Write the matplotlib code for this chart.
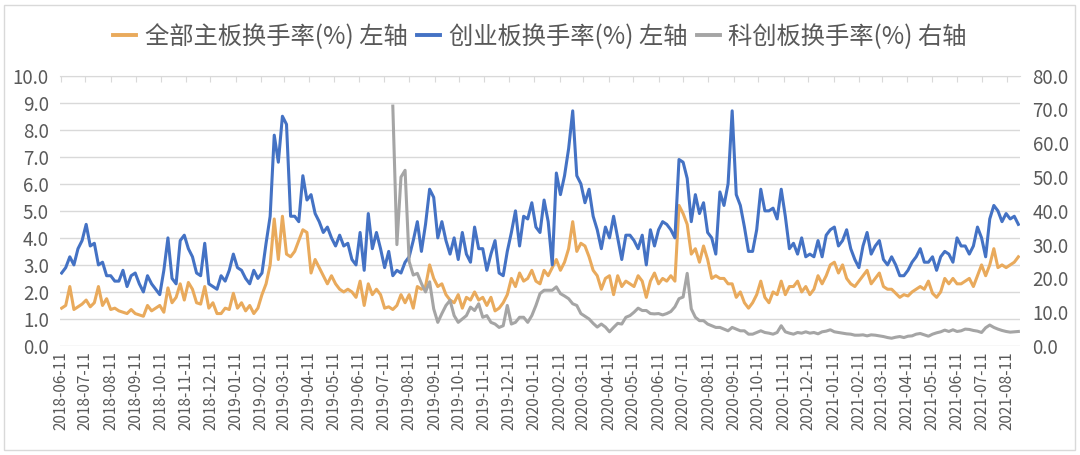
import numpy as np
import pandas as pd
import matplotlib
matplotlib.use("Agg")
import matplotlib.pyplot as plt
import matplotlib.dates as mdates
from matplotlib.patches import Rectangle
from matplotlib.lines import Line2D
from matplotlib.ticker import FormatStrFormatter, MultipleLocator

plt.rcParams['font.family'] = ['Noto Sans CJK SC', 'DejaVu Sans']

# sample dates (every 5 calendar days)
dates = pd.date_range('2018-06-12', periods=235, freq='5D')

# 全部主板换手率(%) - left axis
main_board = [
    1.4, 1.5, 2.2, 1.35, 1.45, 1.55, 1.7, 1.45, 1.6, 2.2,
    1.5, 1.75, 1.35, 1.4, 1.3, 1.25, 1.2, 1.35, 1.2, 1.15,
    1.1, 1.5, 1.3, 1.4, 1.5, 1.25, 2.15, 1.6, 1.8, 2.3,
    1.7, 2.35, 2.1, 1.6, 1.55, 2.2, 1.4, 1.6, 1.2,
    1.2, 1.4, 1.35, 1.95, 1.4, 1.6, 1.3, 1.5, 1.2, 1.4,
    1.9, 2.3, 3.0, 4.7, 3.2, 4.8, 3.4, 3.3, 3.5, 3.9,
    4.3, 4.2, 2.7, 3.2, 2.9, 2.6, 2.3, 2.6, 2.3, 2.1,
    2.0, 2.1, 2.0, 1.8, 2.4, 1.5, 2.3, 1.9, 2.1,
    1.9, 1.4, 1.45, 1.35, 1.5, 1.9, 1.6, 1.9, 1.4, 2.2,
    2.1, 2.2, 3.0, 2.5, 2.2, 2.3, 1.9, 1.7, 1.6, 1.9,
    1.4, 1.8, 1.7, 2.0, 1.7, 1.8, 1.5, 1.8, 1.3, 1.4,
    1.6, 1.9, 2.5, 2.2, 2.7, 2.4, 2.5, 2.8, 2.4,
    2.3, 2.8, 2.6, 2.9, 3.2, 2.8, 3.1, 3.6, 4.6, 3.5,
    3.8, 3.7, 3.3, 2.8, 2.6, 2.1, 2.5, 2.6, 1.9, 2.6,
    2.2, 2.4, 2.3, 2.2, 2.6, 2.4, 1.8, 2.4, 2.7, 2.3,
    2.5, 2.4, 2.6, 2.4, 5.2, 4.9, 4.5, 3.4, 3.6, 3.1,
    3.7, 3.2, 2.5, 2.6, 2.5, 2.5, 2.3, 2.3, 1.8, 2.0,
    1.6, 1.4, 1.6, 1.9, 2.4, 1.8, 1.6, 2.0, 1.9, 2.4,
    1.9, 2.2, 2.2, 2.4, 2.0, 2.2, 1.9, 2.1, 2.6, 2.3,
    2.6, 3.0, 3.1, 2.7, 3.0, 2.5, 2.3, 2.2, 2.4,
    2.6, 2.8, 2.3, 2.5, 2.7, 2.2, 2.1, 2.1, 1.95, 1.8,
    1.9, 1.85, 2.0, 2.1, 2.2, 2.1, 2.4, 1.95, 1.8, 2.0,
    2.5, 2.3, 2.5, 2.3, 2.3, 2.4, 2.5, 2.2, 2.6, 3.0,
    2.6, 3.0, 3.6, 2.9, 3.0, 2.9, 3.0, 3.1, 3.3,
]

# 创业板换手率(%) - left axis
chinext = [
    2.7, 2.9, 3.3, 3.0, 3.6, 3.9, 4.5, 3.7, 3.8, 3.0,
    3.1, 2.6, 2.6, 2.4, 2.4, 2.8, 2.2, 2.6, 2.7, 2.3,
    2.0, 2.6, 2.3, 2.1, 1.9, 2.8, 4.0, 2.5, 2.3, 3.9,
    4.1, 3.6, 3.3, 2.7, 2.6, 3.8, 2.3, 2.2, 2.1,
    2.6, 2.4, 2.8, 3.4, 2.9, 2.8, 2.5, 2.3, 2.8, 2.5,
    2.7, 3.8, 4.8, 7.8, 6.8, 8.5, 8.2, 4.8, 4.8, 4.6,
    6.3, 5.4, 5.6, 4.9, 4.6, 4.2, 4.4, 4.0, 3.7, 4.1,
    3.7, 3.8, 3.2, 3.0, 4.2, 2.8, 4.9, 3.6, 4.2,
    3.6, 2.9, 3.5, 2.6, 2.8, 2.7, 3.1, 3.3, 3.9, 4.6,
    3.5, 4.5, 5.8, 5.5, 4.0, 4.6, 3.9, 3.4, 4.0, 3.2,
    4.2, 3.4, 3.1, 4.4, 3.6, 3.6, 2.8, 3.4, 3.9, 2.7,
    2.6, 3.5, 4.2, 5.0, 3.7, 4.8, 4.7, 5.3, 4.4,
    4.2, 5.4, 4.6, 3.0, 6.4, 5.6, 6.3, 7.3, 8.7, 6.3,
    6.0, 5.3, 5.8, 4.8, 4.3, 3.6, 4.4, 4.0, 4.8, 4.0,
    3.2, 4.1, 4.1, 3.9, 3.6, 4.1, 3.0, 4.3, 3.7, 4.3,
    4.6, 4.5, 4.3, 4.0, 6.9, 6.8, 6.2, 4.6, 5.6, 4.9,
    5.3, 4.2, 4.0, 3.4, 5.7, 5.2, 6.0, 8.7, 5.6, 5.2,
    4.4, 3.5, 3.5, 4.3, 5.8, 5.0, 5.0, 5.1, 4.7, 5.8,
    4.8, 3.6, 3.8, 3.4, 4.0, 3.3, 3.4, 3.3, 3.9, 3.3,
    4.1, 4.3, 4.4, 3.7, 3.9, 4.3, 3.6, 3.2, 2.9,
    3.7, 4.2, 3.4, 3.7, 3.9, 3.2, 3.0, 3.3, 3.0, 2.6,
    2.6, 2.8, 3.1, 3.3, 3.6, 3.1, 3.1, 3.3, 2.8, 3.3,
    3.5, 3.4, 3.1, 4.0, 3.7, 3.7, 3.4, 3.7, 4.4, 4.0,
    3.3, 4.7, 5.2, 5.0, 4.6, 4.9, 4.7, 4.8, 4.5,
]

# 科创板换手率(%) - right axis, starts 2019-07-22
star_start = 81
star = [
    71, 30, 50, 52, 25, 21, 21.5, 18.5, 16, 19,
    11, 7, 9.6, 12, 13.5, 9, 7, 8, 9, 11.5,
    10.5, 12.5, 8.5, 9, 7, 6.5, 5.5, 6, 12, 6.5,
    7, 8.5, 8.5, 7, 9, 12,
    15.5, 16.5, 16.5, 16.5, 17.5, 15.5, 14.8, 14, 12.5, 12,
    9.6, 8.8, 8, 6.7, 5.6, 6.5, 5.6, 4.2, 5.5, 6.7,
    6.5, 8.5, 9, 10, 11.2, 10.5, 10.5, 9.6, 9.5, 9.6,
    9.2, 9.6, 10.2, 11.6, 14, 14.5, 21.5, 11, 8.5, 7.5,
    7.5, 6.5, 6, 5.5, 5.5, 5, 4.5, 5.5, 5, 4.5,
    4.5, 3.5, 3.5, 4, 4.5, 4, 3.8, 3.5, 4, 6,
    4.2, 3.8, 3.5, 4, 3.8, 4.2, 3.8, 4, 3.6, 4.2,
    4.4, 4.8, 4.2, 4.0, 3.8, 3.6, 3.5, 3.2, 3.2,
    3.3, 3.0, 3.3, 3.2, 3.0, 2.8, 2.5, 2.3, 2.6, 2.8,
    2.5, 2.9, 3.0, 3.5, 3.7, 3.3, 2.9, 3.5, 3.9, 4.2,
    4.7, 4.3, 4.8, 4.3, 4.5, 5.0, 4.9, 4.6, 4.4, 4.0,
    5.4, 6.2, 5.5, 5.0, 4.6, 4.3, 4.1, 4.2, 4.3,
]

labels = ['全部主板换手率(%) 左轴', '创业板换手率(%) 左轴', '科创板换手率(%) 右轴']
colors = ['#E9AA5C', '#4472C4', '#A5A5A5']
txt = '#595959'
grid_c = '#D9D9D9'

fig = plt.figure(figsize=(10.8, 4.55), dpi=100)
ax = fig.add_axes([60/1080, 1 - 346/455, 960/1080, (346 - 75.7)/455])
ax2 = ax.twinx()

ax.plot(dates, main_board, color=colors[0], lw=2.2, solid_joinstyle='round')
ax.plot(dates, chinext, color=colors[1], lw=2.2, solid_joinstyle='round')
ax2.plot(dates[star_start:], star, color=colors[2], lw=2.2, solid_joinstyle='round')

ax.set_ylim(0, 10)
ax2.set_ylim(0, 80)
ax.yaxis.set_major_locator(MultipleLocator(1))
ax2.yaxis.set_major_locator(MultipleLocator(10))
ax.yaxis.set_major_formatter(FormatStrFormatter('%.1f'))
ax2.yaxis.set_major_formatter(FormatStrFormatter('%.1f'))

ax.set_xlim(pd.Timestamp('2018-06-10'), pd.Timestamp('2021-08-27'))
ax.xaxis.set_major_locator(mdates.MonthLocator(bymonthday=11))
ax.xaxis.set_major_formatter(mdates.DateFormatter('%Y-%m-%d'))

ax.grid(axis='y', color=grid_c, lw=1)
ax.set_axisbelow(True)
for a in (ax, ax2):
    for s in a.spines.values():
        s.set_visible(False)
ax.spines['top'].set_visible(True)
ax.spines['top'].set_color(grid_c)

ax.tick_params(axis='x', which='major', top=True, bottom=False, labelbottom=True,
               direction='in', length=4, color=grid_c, labelsize=11,
               labelcolor=txt, labelrotation=90, pad=4)
ax.tick_params(axis='y', length=0, labelsize=13.5, labelcolor=txt, pad=8)
ax2.tick_params(axis='y', length=0, labelsize=13.5, labelcolor=txt, pad=9)

handles = [Line2D([], [], color=c, lw=2.8) for c in colors]
leg = fig.legend(handles, labels, loc='center', bbox_to_anchor=(0.5, 1 - 37/455),
                 ncol=3, frameon=False, handlelength=0.95,
                 handletextpad=0.35, columnspacing=0.4,
                 prop={'size': 17.5, 'weight': 'medium'})
for t in leg.get_texts():
    t.set_color(txt)

fig.patches.append(Rectangle((4/1080, 5/455), 1071/1080, 445/455,
                             transform=fig.transFigure, fill=False,
                             ec=grid_c, lw=1))

fig.savefig('out.png', dpi=100)
